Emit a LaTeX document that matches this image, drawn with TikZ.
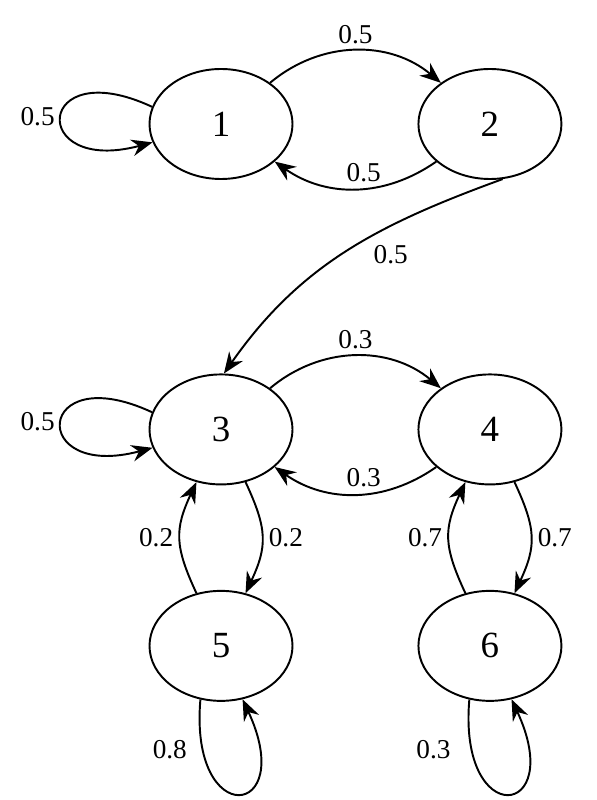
\documentclass[tikz,border=0pt]{standalone}
\usepackage{fontspec}
\setmainfont{Liberation Serif}
\usetikzlibrary{arrows.meta,positioning,shapes.geometric}

\begin{document}
\begin{tikzpicture}[
    node distance=2.48cm,
    state/.style={draw, ellipse, line width=1.1pt, inner sep=0pt,
                  minimum width=2.86cm, minimum height=2.2cm,
                  font=\fontsize{21}{25}\selectfont},
    prob/.style={font=\fontsize{15.5}{18}\selectfont},
    link/.style={->, line width=1.1pt},
    >={Stealth[length=12pt, width=9.5pt, inset=4pt]}]
  \useasboundingbox (0,0) rectangle (11.92,-16);
  \node[state] (n1) at (4.42,-2.48) {1};
  \node[state, right=of n1] (n2) {2};
  \node[state, below=3.87cm of n1] (n3) {3};
  \node[state, right=of n3] (n4) {4};
  \node[state, below=2.09cm of n3] (n5) {5};
  \node[state, right=of n5] (n6) {6};
  % top pair
  \draw[link] (n1) to[out=40, in=140] node[prob, above] {0.5} (n2);
  \draw[link] (n2) to[out=-145, in=-35] node[prob, above, pos=0.45] {0.5} (n1);
  \draw[link] (n1.166) to[out=155, in=195, looseness=9.3] node[prob, left] {0.5} (n1.195);
  \draw[link] (n2.283) to[out=200, in=55] node[prob, below right, pos=0.42] {0.5} (n3.87);
  % middle pair
  \draw[link] (n3) to[out=40, in=140] node[prob, above] {0.3} (n4);
  \draw[link] (n4) to[out=-145, in=-35] node[prob, above, pos=0.45] {0.3} (n3);
  \draw[link] (n3.166) to[out=155, in=195, looseness=9.3] node[prob, left] {0.5} (n3.195);
  % down and back up
  \draw[link] (n3) to[out=-65, in=65, looseness=1.2] node[prob, right] {0.2} (n5);
  \draw[link] (n5) to[out=115, in=245, looseness=1.2] node[prob, left] {0.2} (n3);
  \draw[link] (n4) to[out=-65, in=65, looseness=1.2] node[prob, right] {0.7} (n6);
  \draw[link] (n6) to[out=115, in=245, looseness=1.2] node[prob, left] {0.7} (n4);
  % bottom loops
  \draw[link] (n5.249) to[out=-95, in=-65, looseness=8] node[prob, left=5pt, pos=0.15] {0.8} (n5.292);
  \draw[link] (n6.249) to[out=-95, in=-65, looseness=8] node[prob, left=8pt, pos=0.15] {0.3} (n6.292);
\end{tikzpicture}
\end{document}
